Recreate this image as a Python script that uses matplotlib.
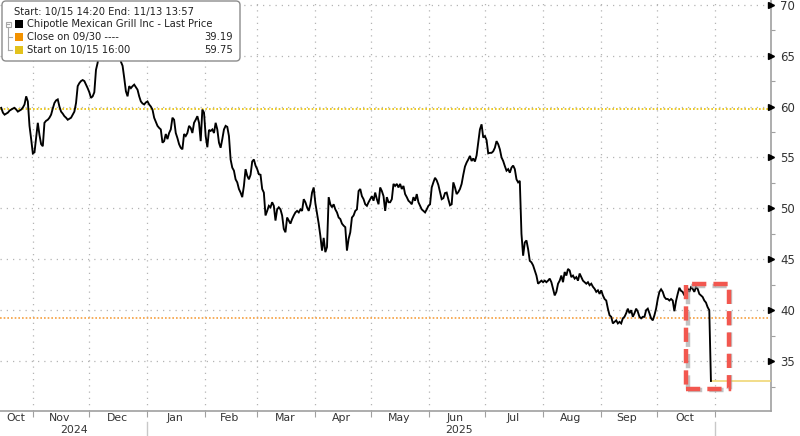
import matplotlib
matplotlib.use('Agg')
import matplotlib.pyplot as plt
import matplotlib.dates as mdates
import pandas as pd
from matplotlib.patches import FancyBboxPatch, Rectangle
from matplotlib.transforms import blended_transform_factory, IdentityTransform, offset_copy
from matplotlib.lines import Line2D

FONT = ['Liberation Sans Narrow', 'DejaVu Sans']
plt.rcParams['font.family'] = FONT

# ---------------- data ----------------
series_start = '2024-10-15'
series_end = '2025-10-30'

prices_a = [59.87, 59.4, 59.2, 59.3, 59.4, 59.6, 59.7, 59.8, 59.87, 59.7, 59.5, 59.6, 59.7, 59.9, 60.2, 61.0,
            60.5, 58.1, 56.8, 55.4, 55.5, 57.0, 58.4, 57.2, 56.3, 56.1, 58.4, 58.6, 58.7, 58.9, 59.2, 59.8,
            60.35, 60.6, 60.7, 60.0, 59.5, 59.3, 59.05, 58.9, 58.7, 58.8, 58.9, 59.2, 59.5, 60.35, 62.0, 62.3,
            62.5, 62.6, 62.5, 62.15, 61.8, 61.4, 60.85, 61.0, 61.4, 63.6, 64.3, 65.8, 66.2, 65.6, 64.6, 64.7,
            65.8, 66.4, 66.6, 66.2, 65.9, 66.3, 66.7, 65.5, 64.4, 64.0, 62.8, 61.5, 61.0, 62.0]
prices_b = [61.8, 62.0, 62.15, 61.9, 61.65, 61.0, 60.5, 60.3, 60.2, 60.4, 60.5, 60.2, 60.0, 59.7, 58.9, 58.5,
            58.1, 57.9, 57.75, 56.45, 56.6, 57.3, 56.8, 57.4, 57.75, 58.9, 58.7, 57.4, 56.9, 56.3, 55.95, 55.8,
            57.3, 57.1, 57.4, 58.1, 57.9, 57.4, 58.4, 58.7, 59.05, 58.4, 56.6, 59.7, 59.4, 57.1, 56.0, 57.7,
            57.6, 57.75, 57.4, 58.4, 57.75, 56.45, 55.95, 56.8, 57.75, 58.1, 58.0, 57.1, 54.8, 54.0, 53.7, 52.85,
            52.55, 51.9, 51.55, 51.1, 52.2, 53.85, 53.2, 52.85, 53.3, 54.6, 54.8, 54.2, 53.85, 53.35]
prices_c = [53.3, 51.9, 51.55, 49.3, 49.75, 50.25, 50.1, 50.6, 50.25, 48.8, 49.9, 50.1, 49.9, 49.3, 47.98, 47.65,
            49.1, 48.8, 48.5, 48.95, 49.3, 49.6, 49.75, 49.6, 49.9, 49.75, 50.9, 50.6, 50.1, 49.75, 50.4, 51.55,
            52.05, 50.5, 49.5, 48.5, 47.3, 45.85, 47.1, 45.7, 46.2, 51.1, 50.4, 50.1, 50.4, 49.9, 49.6, 49.1,
            48.95, 48.5, 48.3, 48.15, 45.85, 47.0, 47.65, 49.1, 49.3, 49.75, 49.9, 51.7, 51.9, 51.2, 50.9, 50.4,
            50.25, 50.6, 50.9, 51.2, 50.75, 51.55, 50.9, 50.4, 52.05, 51.7, 51.2, 49.75, 51.1, 50.6]
prices_d = [50.6, 50.9, 52.4, 52.2, 52.4, 52.05, 52.4, 51.9, 52.2, 51.4, 51.1, 50.75, 50.6, 50.4, 51.1, 50.75,
            51.4, 50.6, 50.25, 49.9, 49.75, 49.6, 49.9, 50.25, 50.4, 52.05, 52.55, 53.0, 52.75, 52.3, 51.6, 50.9,
            51.0, 51.5, 51.55, 50.9, 50.3, 50.4, 52.55, 52.05, 51.4, 51.6, 51.9, 52.4, 53.3, 54.1, 54.5, 54.8,
            55.15, 54.65, 54.9, 54.6, 55.2, 56.45, 57.75, 58.25, 56.95, 57.1, 56.7, 55.4, 55.45, 55.45, 55.6, 55.95,
            56.6, 56.3, 55.8, 55.0, 54.65, 54.15, 53.7, 53.85, 53.5, 54.0, 54.2, 53.85, 52.85, 52.55]
prices_e = [52.7, 47.5, 45.35, 46.65, 46.85, 46.0, 44.85, 44.7, 44.4, 43.9, 43.4, 42.6, 42.75, 42.9, 42.75, 42.9,
            42.75, 42.9, 43.1, 42.75, 42.1, 41.45, 41.8, 42.6, 42.9, 43.4, 42.75, 43.75, 43.4, 44.05, 43.9, 43.25,
            43.4, 43.1, 43.25, 42.9, 43.6, 43.25, 42.9, 42.75, 42.6, 42.75, 42.45, 42.6, 42.3, 42.1, 41.8, 41.95,
            41.6, 41.95, 41.45, 41.1, 40.95, 40.15, 39.5, 39.35, 38.7, 38.85, 39.0, 38.7, 38.85, 38.7, 39.2, 39.35,
            39.7, 40.15, 39.7, 40.0, 39.35, 39.7, 40.15, 39.85, 39.35, 39.2, 39.35, 39.35, 40.0, 40.15]
prices_f = [39.7, 39.2, 39.0, 39.5, 40.15, 41.1, 41.8, 42.05, 41.8, 41.3, 41.1, 41.1, 40.95, 41.1, 40.95, 39.9,
            40.9, 41.6, 42.2, 41.9, 41.8, 41.45, 41.95, 42.1, 41.8, 42.25, 42.1, 41.8, 42.25, 42.1, 41.6, 41.45,
            41.3, 40.95, 40.75, 40.3, 40.0, 33.05]

prices = prices_a + prices_b + prices_c + prices_d + prices_e + prices_f

close_0930 = 39.19
start_1015 = 59.75

legend_header = 'Start: 10/15 14:20 End: 11/13 13:57'
legend_labels = ['Chipotle Mexican Grill Inc - Last Price', 'Close on 09/30 ----', 'Start on 10/15 16:00']
legend_values = ['', '39.19', '59.75']

month_starts = ['2024-11-01', '2024-12-01', '2025-01-01', '2025-02-01', '2025-03-01', '2025-04-01',
                '2025-05-01', '2025-06-01', '2025-07-01', '2025-08-01', '2025-09-01', '2025-10-01', '2025-11-01']
month_label_dates = ['2024-10-23', '2024-11-15', '2024-12-16', '2025-01-16', '2025-02-14', '2025-03-16',
                     '2025-04-15', '2025-05-16', '2025-06-15', '2025-07-16', '2025-08-16', '2025-09-15', '2025-10-16']
month_labels = ['Oct', 'Nov', 'Dec', 'Jan', 'Feb', 'Mar', 'Apr', 'May', 'Jun', 'Jul', 'Aug', 'Sep', 'Oct']
year_labels = ['2024', '2025']
year_label_dates = ['2024-11-23', '2025-06-17']
year_separators = ['2025-01-01', '2025-11-01']

y_ticks = [35, 40, 45, 50, 55, 60, 65, 70]
x_range = ('2024-10-14 08:00', '2025-12-01 00:00')
y_range = (30.1, 70.46)

highlight_x = ('2025-10-16 21:00', '2025-11-08 14:00')
highlight_y = (32.27, 42.53)

# ---------------- figure ----------------
W, H = 800, 436
fig = plt.figure(figsize=(W / 100, H / 100), dpi=100)
AX_H = 411
ax = fig.add_axes([0.0, 1 - AX_H / H, 770.7 / W, AX_H / H])

dates = pd.date_range(series_start, series_end, periods=len(prices))
ax.set_xlim(pd.Timestamp(x_range[0]), pd.Timestamp(x_range[1]))
ax.set_ylim(*y_range)

grid_col = '#b4b4b4'
for v in y_ticks:
    ax.axhline(v, color=grid_col, lw=0.9, ls=(0, (1, 4)), zorder=1)
for d in month_starts:
    ax.axvline(pd.Timestamp(d), color=grid_col, lw=0.9, ls=(0, (1, 4)), zorder=1)

ax.axhline(start_1015, color='#e6bf00', lw=1.2, ls=(0, (1, 1.2)), zorder=2)
ax.axhline(close_0930, color='#f5a040', lw=1.2, ls=(0, (1, 1.2)), zorder=2)

ax.plot(dates, prices, color='black', lw=1.35, zorder=4, solid_joinstyle='miter')
ax.plot([dates[-1], pd.Timestamp(x_range[1])], [prices[-1], prices[-1]], color='#efd36a', lw=1.1, zorder=3)

# highlight rectangle (with soft shadow)
x0 = mdates.date2num(pd.Timestamp(highlight_x[0]))
x1 = mdates.date2num(pd.Timestamp(highlight_x[1]))
shadow = Rectangle((x0, highlight_y[0]), x1 - x0, highlight_y[1] - highlight_y[0], fill=False,
                   edgecolor='#9a9a9a', lw=3.2, ls=(0, (3.2, 1.6)), zorder=5, alpha=0.6)
shadow.set_transform(offset_copy(ax.transData, fig=fig, x=1.2, y=-1.2, units='dots'))
ax.add_patch(shadow)
ax.add_patch(Rectangle((x0, highlight_y[0]), x1 - x0, highlight_y[1] - highlight_y[0], fill=False,
                       edgecolor='#f2574f', lw=3.2, ls=(0, (3.2, 1.6)), zorder=6))

# spines
for s in ['top', 'left']:
    ax.spines[s].set_visible(False)
for s in ['right', 'bottom']:
    ax.spines[s].set_color('#a0a0a0')
    ax.spines[s].set_linewidth(1.2)

# y axis on the right
ax.yaxis.tick_right()
ax.set_yticks(y_ticks)
ax.set_yticklabels([str(v) for v in y_ticks])
ax.set_yticks([v + 2.5 for v in y_ticks[:-1]] + [32.5], minor=True)
ax.tick_params(axis='y', which='major', length=0, pad=7, labelsize=8.5, labelcolor='#333333')
ax.tick_params(axis='y', which='minor', length=3, color='#a0a0a0', width=0.8)
tr_y = blended_transform_factory(ax.transAxes, ax.transData)
ax.plot([1.0] * len(y_ticks), y_ticks, marker='>', ls='none', color='black', markersize=4.5,
        transform=tr_y, clip_on=False, zorder=7)

# x axis
ax.set_xticks([mdates.date2num(pd.Timestamp(d)) for d in month_starts])
ax.set_xticklabels([])
ax.tick_params(axis='x', which='major', length=4, color='#a0a0a0', width=0.8)
tr_x = blended_transform_factory(ax.transData, ax.transAxes)
px = 1.0 / AX_H
for d, lab in zip(month_label_dates, month_labels):
    ax.text(pd.Timestamp(d), -7 * px, lab, transform=tr_x, ha='center', va='center', fontsize=7.8, color='#333333')
for d, lab in zip(year_label_dates, year_labels):
    ax.text(pd.Timestamp(d), -18.5 * px, lab, transform=tr_x, ha='center', va='center', fontsize=7.8, color='#333333')
for d in year_separators:
    ax.plot([pd.Timestamp(d)] * 2, [-11 * px, -25 * px], transform=tr_x, color='#c8c8c8', lw=1.0, clip_on=False)

# legend box (pixel coordinates, image y measured from top)
idt = IdentityTransform()
def py(y):
    return H - y

box = FancyBboxPatch((2, py(61)), 238, 60, boxstyle='round,pad=0,rounding_size=4',
                     transform=idt, facecolor='white', edgecolor='#8c8c8c', lw=1.0, zorder=10)
fig.add_artist(box)
txt_kw = dict(transform=idt, fontsize=7.2, color='#222222', va='center', zorder=11)
fig.text(14, py(11.5), legend_header, **txt_kw)
sq_cols = ['#000000', '#f39200', '#e3c21c']
row_y = [24, 37, 50]
for yc, col, lab, val in zip(row_y, sq_cols, legend_labels, legend_values):
    fig.add_artist(Rectangle((15, py(yc + 4)), 8, 8, transform=idt, facecolor=col, edgecolor='none', zorder=11))
    fig.text(27, py(yc), lab, **txt_kw)
    if val:
        fig.text(233, py(yc), val, ha='right', **txt_kw)
# tree glyph
tree_col = '#a8a8a8'
fig.add_artist(Rectangle((5.5, py(26.5)), 5, 5, transform=idt, facecolor='white', edgecolor=tree_col, lw=0.8, zorder=11))
fig.add_artist(Line2D([6.8, 9.2], [py(24), py(24)], transform=idt, color=tree_col, lw=0.8, zorder=12))
fig.add_artist(Line2D([8, 8], [py(27), py(50)], transform=idt, color=tree_col, lw=0.8, zorder=11))
for yc in [37, 50]:
    fig.add_artist(Line2D([8, 12], [py(yc), py(yc)], transform=idt, color=tree_col, lw=0.8, zorder=11))

fig.savefig('out.png', dpi=100)
